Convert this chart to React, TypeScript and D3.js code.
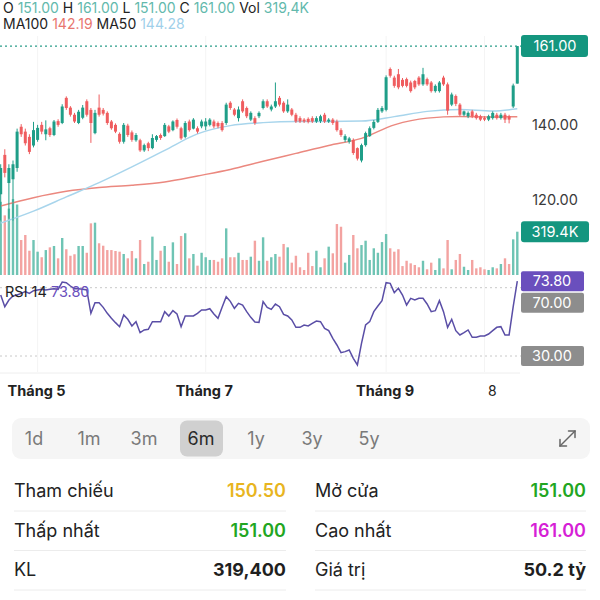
import React from 'react';
import * as d3 from 'd3';

// ---- candle data (6 months, daily) ----
const opens = [121.5,132,124.5,125.5,128.5,139.5,138.2,136.8,134.5,136,140,137.5,139.1,137.3,141,140.5,147.2,144.6,142.7,140.5,141.9,146.3,144,137.8,144.6,144,143.2,140.9,140,137.6,135.5,139.8,138,135.9,135.9,133.2,135.1,133.8,136,137.3,137,139.6,138.6,141.3,139.1,136.8,140.9,139,139.1,139.6,139.6,140,140.9,140.5,140.5,140.5,145.9,144.1,141.8,146.3,144.5,141.4,141.8,142.3,144.5,146.3,144.1,144.9,147.2,145.9,143.6,144.1,142.7,141.8,141.4,141.6,141.8,140.9,141,142.7,140.9,141.4,140.9,138.6,136,135.5,136,133.8,130.5,134.6,137,139.2,140.8,143.6,144,154.9,152.6,153.5,152,152.2,151.3,151.7,152.6,150.8,152.2,151.3,149,149,152.6,150.8,145.4,147.7,145.4,142.7,142.3,143.6,142.7,142.3,141.8,141.4,141.8,142.7,141.8,142.7,142.3,144.9,151];
const highs = [129.5,133.5,129.5,130.5,139,140.2,139,137.5,140.8,140,140.8,141.2,139.5,141.3,141.5,145.5,147.6,145,143.2,144,145.3,146.8,144.5,144,148.1,144.5,143.6,141.3,140.4,138,140.5,140.3,138.5,137.8,136.3,135,135.5,137.5,137.3,137.7,140.5,140,141.2,141.7,139.5,141,141.4,141.8,139.6,141.4,141.8,141.8,141.4,140.9,141,145.9,146.3,144.5,144.9,146.8,144.9,143.6,142.3,143.6,146.8,146.8,145.4,151.3,147.7,146.3,146.8,144.5,143.2,142.3,141.8,142,142.3,142.3,142.7,143.2,141.8,141.8,141.4,139.1,137.5,136.8,136.4,134,135,138.2,139.6,141.3,144.5,145,153.2,155.3,153.1,154.9,152.5,152.6,151.8,152,153,155.2,152.6,151.7,150.8,151.7,153.1,151.3,148.6,148.1,145.8,143.8,143.6,144,143.2,142.7,142.3,142.7,143.6,143.2,143.2,143.2,142.7,151,161];
const lows = [114.5,126,115,114.5,127.5,136.8,134.5,132.2,134,135.5,137.5,135.9,136.8,137,139.5,140.2,144,142.2,140.5,140.2,141.5,142.2,135.2,137.5,142.2,142.5,140,138.7,137.8,135,135,136.8,135.5,135.5,132.8,132.8,133,133.5,135.5,136,136.8,137.8,138.3,139,136,136.4,138.2,138.8,137.7,139.1,138.6,139.6,139.1,139.1,138.2,140,144,142.3,140.9,143.2,141.8,141,140,141.8,144.1,144.5,143.6,144.5,144.9,143.2,143.2,142.3,140.5,140.5,140.5,140.4,140.5,140.5,140.5,140.5,140.5,140,138.2,136.8,135.4,135,132,130.5,130,134.2,136.8,138.8,140.5,143.2,143.6,152.6,149.9,149.5,150,150,148.6,149.5,150.4,150.4,150.4,148.6,148.6,148.6,150.4,142.7,145,145,142.3,142.3,141.8,141.8,141.4,141,141,141,141.4,141.4,141.4,140.5,140.4,144.5,151];
const closes = [128.5,127.2,128.5,129.5,138.2,137.5,135.1,132.8,138.6,139.2,138.2,138.8,137.3,140.9,140,144.9,144.5,142.7,140.9,143.5,144.6,142.7,140.5,143.2,142.7,143,140.5,139.1,138.2,135.5,140,137.3,136,137.3,133.2,134.6,133.8,136.5,137,136.5,140,138.2,140.9,139.5,136.4,140.5,138.6,141.4,138.2,140.9,140.9,141.4,139.6,139.6,138.6,145.4,144.5,142.7,144.1,143.6,142.3,143.2,140.5,143.2,146.3,144.9,144.9,146.3,145.4,143.6,145.4,142.7,140.9,140.9,140.9,140.8,140.9,141.8,142.3,140.9,141.4,140.5,138.6,137.3,137,136.4,132.5,131,134.6,137.8,139.1,140.8,144,144.5,152.7,153.1,150.4,150,150.4,150.4,149,150,150.8,153.5,150.8,149,150.4,151.3,150.8,143.8,148.1,145.6,142.7,143.6,143.2,142.3,141.8,141.4,141.4,142.3,143.2,141.8,142.7,141.4,141.4,150.5,161];
// volume in thousands
const volumes = [540,440,490,560,520,258,295,179,258,172,131,184,204,214,123,273,190,142,153,214,214,164,381,386,234,216,184,184,177,172,155,123,177,123,258,81,98,283,111,179,214,98,241,81,288,308,123,155,69,164,131,111,111,98,123,344,131,131,164,111,111,135,253,105,278,105,131,155,135,229,204,91,142,57,37,164,66,179,57,123,209,160,376,356,91,148,295,197,221,253,111,197,164,243,302,197,172,190,66,105,86,74,57,105,42,91,37,123,49,258,42,111,155,61,37,111,49,57,42,37,57,49,81,123,81,263,319.4];
const rsi = [65.72,58.89,62.8,65.14,65.72,66.7,67.67,66.7,68.26,68.65,69.04,68.65,69.04,69.43,69.04,73.33,72.94,70.99,69.43,69.43,69.04,68.65,54.99,61.24,61.24,58.5,54.99,52.06,49.53,47.18,54.01,51.48,47.58,50.11,43.67,45.23,45.62,50.11,50.11,50.11,55.96,53.43,56.55,54.6,47.18,53.43,53.43,53.43,54.99,56.94,56.94,57.72,54.6,52.06,58.5,64.75,62.02,57.92,60.84,59.87,55.96,52.65,49.92,49.72,61.82,58.5,57.33,60.45,58.89,54.4,53.43,51.09,46.79,46.79,48.16,47.58,49.14,50.5,50.11,46.21,44.84,40.35,36.45,31.96,32.55,33.52,28.64,24.74,37.42,48.16,50.11,55.96,59.28,62.41,72.94,72.55,67.09,69.63,65.72,59.87,63.77,62.8,63.77,63.77,60.45,55.96,56.55,62.41,55.96,46.79,51.48,44.84,42.31,43.67,45.23,40.94,40.94,41.72,41.72,42.89,44.84,46.79,47.18,42.31,42.31,58.89,73.8];

// moving averages read at sample candles
const maIdx = [0, 8, 16, 24, 32, 40, 48, 56, 64, 72, 80, 88, 96, 104, 112, 120, 126];
const ma50 = [113.8, 117, 120.8, 124.6, 128.8, 133.2, 137.6, 139.8, 140.6, 140.9, 140.9, 141, 142.2, 143.6, 144.1, 143.7, 144.28];
const ma100 = [118.4, 120.6, 122.3, 123.3, 123.9, 124.8, 126.4, 128.1, 130.3, 132.4, 134.5, 136.4, 140.0, 141.8, 142.2, 142.1, 142.19];

const priceTicks = [140, 120];
const rsiLevels = [70, 30];
const monthLabels = ['Tháng 5', 'Tháng 7', 'Tháng 9', '8'];
const monthIdx = [9, 50, 94, 118];
const periods = ['1d', '1m', '3m', '6m', '1y', '3y', '5y'];
const selectedPeriod = '6m';
const refPrice = 150.5;
const tradeValue = '50.2 tỷ';

const FONT = "Inter, 'Noto Sans', 'DejaVu Sans', sans-serif";
const UP = '#1f9e88';
const DOWN = '#ef5d5f';
const UPV = '#6fc4b4';
const DOWNV = '#f3a3a1';
const TEAL_TXT = '#62b9ac';
const BOX_TEAL = '#14967f';
const PURPLE = '#6a4fbd';
const GRAYBOX = '#8d8d8d';

export default function App() {
  const N = closes.length;
  const x = d3.scaleLinear().domain([0, N - 1]).range([0.7, 517.3]);
  const yP = d3.scaleLinear().domain([120, 161]).range([199.9, 46.1]);
  const yV = d3.scaleLinear().domain([0, 319.4]).range([275, 231.7]);
  const yR = d3.scaleLinear().domain([30, 70]).range([356, 287.7]);

  const maLine = (vals: number[]) =>
    d3.line<number>().x((_, i) => x(maIdx[i])).y((v) => yP(v)).curve(d3.curveMonotoneX)(vals) || '';
  const rsiLine = d3.line<number>().x((_, i) => x(i)).y((v) => yR(v))(rsi) || '';

  const last = N - 1;
  const fmt = (v: number) => v.toFixed(2);
  const volLast = volumes[last];
  const volComma = volLast.toFixed(1).replace('.', ',') + 'K';
  const volDot = volLast.toFixed(1) + 'K';
  const kl = d3.format(',')(Math.round(volLast * 1000));

  const bodyW = 3.0;
  const volW = 2.4;
  const labelX = 555;

  const rows = [
    { l1: 'Tham chiếu', v1: fmt(refPrice), c1: '#e8b51f', l2: 'Mở cửa', v2: fmt(opens[last]), c2: '#22a622', bold: false },
    { l1: 'Thấp nhất', v1: fmt(lows[last]), c1: '#22a622', l2: 'Cao nhất', v2: fmt(highs[last]), c2: '#d61fd6', bold: false },
    { l1: 'KL', v1: kl, c1: '#1f1f1f', l2: 'Giá trị', v2: tradeValue, c2: '#1f1f1f', bold: true },
  ];
  const periodX = [34, 89, 144, 201, 256, 312, 369];

  return (
    <svg width={600} height={600} style={{ position: 'absolute', left: 0, top: 0, background: '#fff' }} fontFamily={FONT}>
      <rect x={0} y={0} width={600} height={600} fill="#fff" />

      {/* faint grid */}
      {monthIdx.map((m, i) => (
        <line key={'g' + i} x1={x(m)} x2={x(m)} y1={36} y2={372} stroke="#f4f4f4" strokeWidth={1} />
      ))}
      <line x1={0} x2={520} y1={373} y2={373} stroke="#eeeeee" />

      {/* header */}
      <text x={3} y={12.5} fontSize={14}>
        <tspan fill="#222">O </tspan><tspan fill={TEAL_TXT}>{fmt(opens[last])}</tspan>
        <tspan fill="#222"> H </tspan><tspan fill={TEAL_TXT}>{fmt(highs[last])}</tspan>
        <tspan fill="#222"> L </tspan><tspan fill={TEAL_TXT}>{fmt(lows[last])}</tspan>
        <tspan fill="#222"> C </tspan><tspan fill={TEAL_TXT}>{fmt(closes[last])}</tspan>
        <tspan fill="#222"> Vol </tspan><tspan fill={TEAL_TXT}>{volComma}</tspan>
      </text>
      <text x={3} y={29} fontSize={14}>
        <tspan fill="#222">MA100 </tspan><tspan fill="#e8766f">{fmt(ma100[ma100.length - 1])}</tspan>
        <tspan fill="#222"> MA50 </tspan><tspan fill="#9fd0ea">{fmt(ma50[ma50.length - 1])}</tspan>
      </text>

      {/* volume bars */}
      {volumes.map((v, i) => (
        <rect key={'v' + i} x={x(i) - volW / 2} y={yV(v)} width={volW} height={yV(0) - yV(v)}
          fill={closes[i] >= opens[i] ? UPV : DOWNV} />
      ))}

      {/* moving averages */}
      <path d={maLine(ma100)} fill="none" stroke="#eb887f" strokeWidth={1.5} />
      <path d={maLine(ma50)} fill="none" stroke="#a8d5ec" strokeWidth={1.5} />

      {/* candles */}
      {closes.map((c, i) => {
        const o = opens[i];
        const up = c >= o;
        const col = up ? UP : DOWN;
        const top = yP(Math.max(o, c));
        const bot = yP(Math.min(o, c));
        return (
          <g key={'c' + i}>
            <line x1={x(i)} x2={x(i)} y1={yP(highs[i])} y2={yP(lows[i])} stroke={col} strokeWidth={1} />
            <rect x={x(i) - bodyW / 2} y={top} width={bodyW} height={Math.max(1, bot - top)} fill={col} />
          </g>
        );
      })}

      {/* last price line */}
      <line x1={0} x2={521} y1={yP(closes[last])} y2={yP(closes[last])} stroke="#2a9d8a" strokeWidth={1.2} strokeDasharray="2 3" />
      <rect x={521} y={yP(closes[last]) - 11} width={67} height={22} rx={3} fill={BOX_TEAL} />
      <text x={labelX} y={yP(closes[last]) + 5} fontSize={14.5} fill="#fff" textAnchor="middle">{fmt(closes[last])}</text>

      {priceTicks.map((t) => (
        <text key={'t' + t} x={labelX} y={yP(t) + 5} fontSize={14.5} fill="#3a3a3a" textAnchor="middle">{fmt(t)}</text>
      ))}

      {/* volume label */}
      <rect x={521} y={yV(volLast) - 10.5} width={68} height={21} rx={3} fill={BOX_TEAL} />
      <text x={labelX} y={yV(volLast) + 5} fontSize={14.5} fill="#fff" textAnchor="middle">{volDot}</text>

      {/* RSI */}
      {rsiLevels.map((l) => (
        <line key={'rl' + l} x1={0} x2={521} y1={yR(l)} y2={yR(l)} stroke="#c8c8c8" strokeWidth={1} strokeDasharray="2 3" />
      ))}
      <path d={rsiLine} fill="none" stroke="#5a4ea6" strokeWidth={1.5} />
      <text x={5} y={297} fontSize={14.5}>
        <tspan fill="#222">RSI 14 </tspan><tspan fill={PURPLE}>{rsi[last].toFixed(2)}</tspan>
      </text>
      <rect x={521} y={yR(rsiLevels[0]) + 5} width={63} height={20} rx={2} fill={GRAYBOX} />
      <text x={552} y={yR(rsiLevels[0]) + 20} fontSize={14.5} fill="#fff" textAnchor="middle">{fmt(rsiLevels[0])}</text>
      <rect x={521} y={yR(rsi[last]) - 10} width={63} height={20} rx={2} fill={PURPLE} />
      <text x={552} y={yR(rsi[last]) + 5} fontSize={14.5} fill="#fff" textAnchor="middle">{rsi[last].toFixed(2)}</text>
      <rect x={521} y={yR(rsiLevels[1]) - 10} width={63} height={20} rx={2} fill={GRAYBOX} />
      <text x={552} y={yR(rsiLevels[1]) + 5} fontSize={14.5} fill="#fff" textAnchor="middle">{fmt(rsiLevels[1])}</text>

      {/* x axis labels */}
      {monthLabels.map((m, i) => (
        <text key={'m' + i} x={i === 3 ? 488 : x(monthIdx[i]) - 30} y={396} fontSize={i === 3 ? 14 : 14.5}
          fontWeight={i === 3 ? 400 : 700} fill="#222">{m}</text>
      ))}

      {/* period selector */}
      <rect x={12} y={418} width={578} height={41} rx={9} fill="#f5f5f5" />
      <rect x={180} y={420.5} width={43} height={36} rx={7} fill="#d0d0d0" />
      {periods.map((p, i) => (
        <text key={'p' + i} x={periodX[i]} y={444.5} fontSize={18} textAnchor="middle"
          fill={p === selectedPeriod ? '#2a2a2a' : '#7a7a7a'}>{p}</text>
      ))}
      <g stroke="#666" strokeWidth={1.5} fill="none" strokeLinecap="round">
        <line x1={560} y1={446} x2={575} y2={431} />
        <polyline points="568.5,431 575,431 575,437.5" />
        <polyline points="560,439.5 560,446 566.5,446" />
      </g>

      {/* info table */}
      {rows.map((r, i) => {
        const by = 497 + i * 39.5;
        return (
          <g key={'r' + i}>
            <text x={14} y={by} fontSize={18} fill="#222">{r.l1}</text>
            <text x={286} y={by} fontSize={18} fill={r.c1} textAnchor="end" fontWeight={r.bold ? 700 : 600}>{r.v1}</text>
            <text x={315} y={by} fontSize={18} fill="#222">{r.l2}</text>
            <text x={586} y={by} fontSize={18} fill={r.c2} textAnchor="end" fontWeight={r.bold ? 700 : 600}>{r.v2}</text>
            <line x1={14} x2={286} y1={by + 14} y2={by + 14} stroke="#ececec" />
            <line x1={315} x2={586} y1={by + 14} y2={by + 14} stroke="#ececec" />
          </g>
        );
      })}
    </svg>
  );
}
